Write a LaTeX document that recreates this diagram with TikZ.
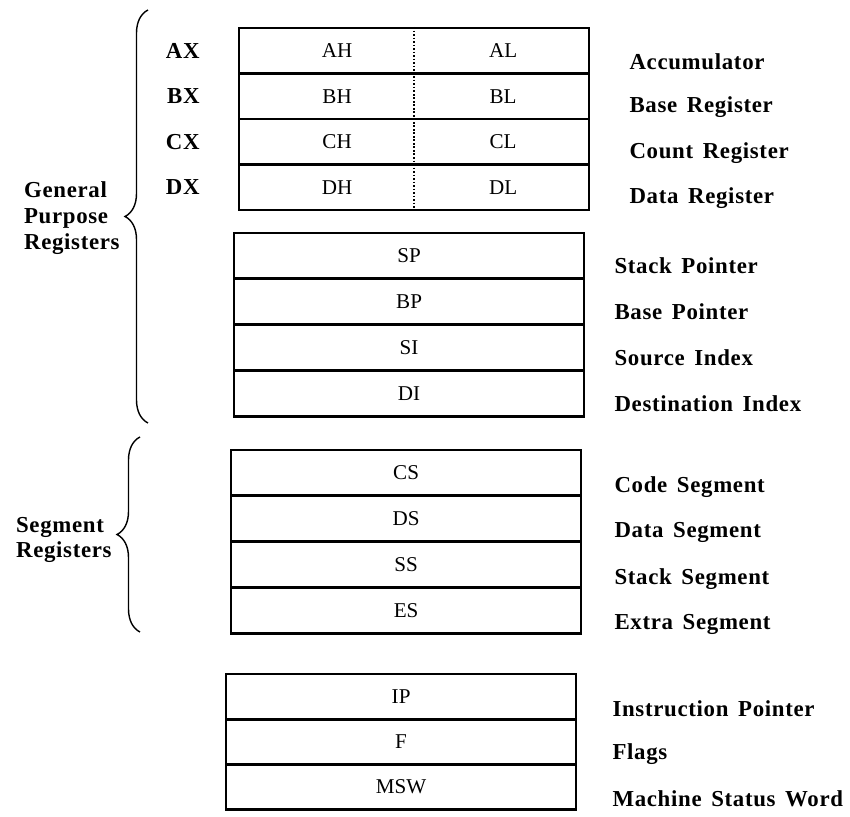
\documentclass[tikz,border=0pt]{standalone}
\usepackage{fontspec}
\setmainfont{Liberation Serif}
\newfontfamily\lblfont[LetterSpace=3, WordSpace=1.5]{Liberation Serif}
\usetikzlibrary{positioning, calc, decorations.pathreplacing}

\begin{document}
\begin{tikzpicture}[x=0.02cm, y=-0.02cm,
  reg/.style={draw, line width=1.3pt, minimum width=7cm, minimum height=0.91cm,
    inner sep=0pt, anchor=north west, font=\fontsize{12}{13}\selectfont},
  half/.style={inner sep=0pt, font=\fontsize{12}{13}\selectfont},
  regname/.style={inner sep=0pt, font=\lblfont\bfseries\fontsize{13}{14}\selectfont},
  grp/.style={inner sep=0pt, align=left, anchor=east, font=\lblfont\bfseries\fontsize{13}{14.7}\selectfont},
  curly/.style={decorate, decoration={brace, amplitude=0.46cm}, line width=0.8pt}]
  \useasboundingbox (0,0) rectangle (850,817);
  % general purpose registers, split in halves
  \foreach \r/\n/\h/\l/\txt [count=\i from 0] in
    {ax/AX/AH/AL/Accumulator, bx/BX/BH/BL/Base Register,
     cx/CX/CH/CL/Count Register, dx/DX/DH/DL/Data Register} {
    \node[reg] (\r) at (238, 27+\i*45.5) {};
    \node[half] (\r h) at ([xshift=-1.54cm]\r.center) {\h};
    \node[half] (\r l) at ([xshift=1.78cm]\r.center) {\l};
    \node[regname, anchor=east, left=0.76cm of \r] (\r n) {\n};
    \node[regname, anchor=west] (\r t) at ([xshift=0.78cm, yshift=-0.22cm]\r.east) {\txt};
  }
  \draw[line width=1pt, densely dotted] (ax.north) -- (dx.south);
  % pointer and index registers
  \foreach \r/\txt [count=\i from 0] in
    {SP/Stack Pointer, BP/Base Pointer, SI/Source Index, DI/Destination Index} {
    \node[reg] (\r) at (233, 232+\i*46) {\r};
    \node[regname, anchor=west] (\r t) at ([xshift=0.58cm, yshift=-0.2cm]\r.east) {\txt};
  }
  % segment registers
  \foreach \r/\txt [count=\i from 0] in
    {CS/Code Segment, DS/Data Segment, SS/Stack Segment, ES/Extra Segment} {
    \node[reg] (\r) at (230, 449+\i*46) {\r};
    \node[regname, anchor=west] (\r t) at ([xshift=0.64cm, yshift=-0.28cm]\r.east) {\txt};
  }
  % instruction pointer and flags
  \foreach \r/\txt [count=\i from 0] in
    {IP/Instruction Pointer, F/Flags, MSW/Machine Status Word} {
    \node[reg] (\r) at (225, 673+\i*45) {\r};
    \node[regname, anchor=west] (\r t) at ([xshift=0.7cm, yshift=-0.24cm]\r.east) {\txt};
  }
  % braces
  \coordinate (gp top) at (148,10);
  \coordinate (gp bot) at (148,423);
  \coordinate (sg top) at (140,437);
  \coordinate (sg bot) at (140,632);
  \draw[curly] (gp bot) -- (gp top);
  \draw[curly] (sg bot) -- (sg top);
  \node[grp] (gp) at (120,218) {General\\Purpose\\Registers};
  \node[grp] (sg) at (112,540) {Segment\\Registers};
\end{tikzpicture}
\end{document}
